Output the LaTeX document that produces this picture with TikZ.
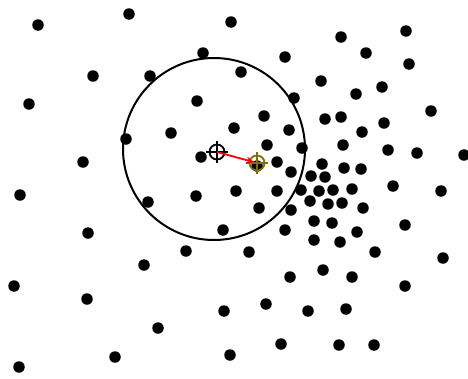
\documentclass[tikz,border=0pt]{standalone}
\usepackage{tikz}
\usetikzlibrary{arrows.meta,calc}

\definecolor{olivegold}{RGB}{128,110,10}

\begin{document}
\begin{tikzpicture}[
  x=1pt, y=-1pt,
  >={Stealth[length=8pt, width=7pt]},
  dot/.style={circle, fill=black, inner sep=0pt, minimum size=11.5pt},
  window/.style={draw=black, line width=2pt},
  xhair/.style={circle, draw=#1, line width=1.8pt, inner sep=0pt, minimum size=15pt},
  xline/.style={draw=#1, line width=1.8pt},
  shiftvec/.style={->, draw=red, line width=1.8pt, shorten >=3pt}
]
  \useasboundingbox (0,0) rectangle (468,378);

  % Sample points
  \foreach \px/\py [count=\i] in {
    38/25, 129/14, 231/22, 341/37, 406/31,
    203/53, 285/57, 366/53, 409/64,
    93/76, 150/76, 241/72, 321/81,
    29/104, 197/101, 294/98, 356/94, 382/87,
    431/111, 264/116, 325/119, 341/117,
    126/139, 171/133, 234/128, 289/130, 362/132, 384/123,
    267/145, 302/148, 343/145, 388/150, 417/153, 464/155,
    83/162, 201/157, 277/162, 322/164, 291/172, 344/168, 361/169,
    311/176, 325/177, 257/166,
    236/191, 277/191, 301/190, 319/191, 333/190, 352/189, 393/186, 441/191,
    20/195, 148/202, 196/196,
    310/201, 328/204, 342/203, 363/208, 259/208, 291/210,
    314/221, 332/223, 357/232, 405/225, 285/230, 223/230,
    314/240, 340/242,
    88/233, 186/251, 249/252, 375/252, 443/258,
    144/265, 323/270, 290/277, 352/277, 14/286, 405/286,
    87/299, 266/304, 308/311, 346/309, 224/311,
    158/328, 281/344, 339/345, 374/345,
    115/357, 230/355, 19/367}
    \node[dot] (d\i) at (\px,\py) {};

  % Kernel window
  \node[window, circle, minimum size=182pt, inner sep=0pt] (win) at (214,149) {};

  % Current and shifted means
  \node[xhair=black] (cb) at (217,152) {};
  \node[xhair=olivegold] (cg) at (257,163) {};
  \draw[xline=black] (cb.center) ++(-11,0) -- ++(22,0);
  \draw[xline=black] (cb.center) ++(0,-11) -- ++(0,22);
  \draw[xline=olivegold] (cg.center) ++(-11,0) -- ++(22,0);
  \draw[xline=olivegold] (cg.center) ++(0,-11) -- ++(0,22);

  % Mean-shift vector
  \draw[shiftvec] (cb.center) -- (cg.center);

\end{tikzpicture}
\end{document}
